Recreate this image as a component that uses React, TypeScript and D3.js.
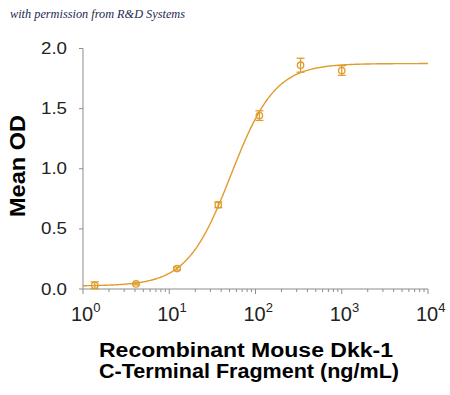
import React from "react";
import * as d3 from "d3";

const concentrations = [1.37, 4.12, 12.3, 37.0, 111, 333, 1000];
const meanOD = [0.031, 0.042, 0.17, 0.70, 1.442, 1.861, 1.817];
const errorOD = [0.028, 0.008, 0.012, 0.024, 0.04, 0.058, 0.04];

// 4-parameter logistic fit shown as the curve
const fitBottom = 0.025;
const fitTop = 1.875;
const fitEC50 = 52;
const fitHill = 1.7;

const yTicks = [0, 0.5, 1.0, 1.5, 2.0];
const xDecades = [0, 1, 2, 3, 4];

const xLabelLines = ["Recombinant Mouse Dkk-1", "C-Terminal Fragment (ng/mL)"];
const yLabel = "Mean OD";
const watermark = "with permission from R&D Systems";

const W = 450;
const H = 395;
const color = "#E09B2D";
const axisColor = "#8c8c8c";

export default function App() {
  const x = d3.scaleLog().domain([1, 1e4]).range([83, 428]);
  const y = d3.scaleLinear().domain([0, 2]).range([289, 48.5]);

  const fit = (c: number) => fitBottom + (fitTop - fitBottom) / (1 + Math.pow(fitEC50 / c, fitHill));
  const curvePts: [number, number][] = [];
  const n = 400;
  for (let i = 0; i <= n; i++) {
    const c = Math.pow(10, (4 * i) / n);
    curvePts.push([x(c), y(fit(c))]);
  }
  const line = d3.line().curve(d3.curveLinear)(curvePts) || "";

  const minorTicks: number[] = [];
  for (let d = 0; d < 4; d++) {
    for (let m = 2; m <= 9; m++) minorTicks.push(m * Math.pow(10, d));
  }

  const [x0, x1] = x.range();
  const [yb, yt] = y.range();

  return (
    <svg width={W} height={H} style={{ position: "absolute", left: 0, top: 0, background: "#fff" }}>
      <text x={10} y={18} fontFamily="Liberation Serif, serif" fontStyle="italic" fontSize={12} fill="#1d2b4f" textLength={175} lengthAdjust="spacingAndGlyphs">
        {watermark}
      </text>

      {/* axes */}
      <line x1={x0} x2={x0} y1={yt} y2={yb} stroke={axisColor} strokeWidth={1} />
      <line x1={x0} x2={x1} y1={yb} y2={yb} stroke={axisColor} strokeWidth={1} />
      {yTicks.map((t) => (
        <g key={"yt" + t}>
          <line x1={x0 - 4} x2={x0} y1={y(t)} y2={y(t)} stroke={axisColor} />
          <text x={67} y={y(t) + 5.5} textAnchor="end" fontFamily="Arial, Liberation Sans, sans-serif" fontSize={16} fill="#222" textLength={26} lengthAdjust="spacingAndGlyphs">
            {t.toFixed(1)}
          </text>
        </g>
      ))}
      {minorTicks.map((t) => (
        <line key={"mt" + t} x1={x(t)} x2={x(t)} y1={yb} y2={yb + 3} stroke={axisColor} />
      ))}
      {xDecades.map((d) => (
        <g key={"xt" + d}>
          <line x1={x(Math.pow(10, d))} x2={x(Math.pow(10, d))} y1={yb} y2={yb + 5} stroke={axisColor} />
          <text x={x(Math.pow(10, d)) - 12} y={321} fontFamily="Arial, Liberation Sans, sans-serif" fontSize={20} fill="#222">
            10
            <tspan dy={-9} fontSize={13}>{d}</tspan>
          </text>
        </g>
      ))}

      {/* fit curve */}
      <path d={line} fill="none" stroke={color} strokeWidth={1.4} />

      {/* points */}
      {concentrations.map((c, i) => {
        const cx = x(c);
        const cy = y(meanOD[i]);
        const top = y(meanOD[i] + errorOD[i]);
        const bot = y(meanOD[i] - errorOD[i]);
        return (
          <g key={"p" + i} stroke={color} strokeWidth={1.3} fill="none">
            <line x1={cx} x2={cx} y1={top} y2={bot} />
            <line x1={cx - 4} x2={cx + 4} y1={top} y2={top} />
            <line x1={cx - 4} x2={cx + 4} y1={bot} y2={bot} />
            <circle cx={cx} cy={cy} r={3.2} />
          </g>
        );
      })}

      {/* labels */}
      <text transform={`translate(25,166) rotate(-90)`} textAnchor="middle" fontFamily="Arial, Liberation Sans, sans-serif" fontWeight="bold" fontSize={22} fill="#000" textLength={102} lengthAdjust="spacingAndGlyphs">
        {yLabel}
      </text>
      <text x={99} y={357} fontFamily="Arial, Liberation Sans, sans-serif" fontWeight="bold" fontSize={20} fill="#000" textLength={294} lengthAdjust="spacingAndGlyphs">
        {xLabelLines[0]}
      </text>
      <text x={99} y={377.5} fontFamily="Arial, Liberation Sans, sans-serif" fontWeight="bold" fontSize={20} fill="#000" textLength={300} lengthAdjust="spacingAndGlyphs">
        {xLabelLines[1]}
      </text>
    </svg>
  );
}
